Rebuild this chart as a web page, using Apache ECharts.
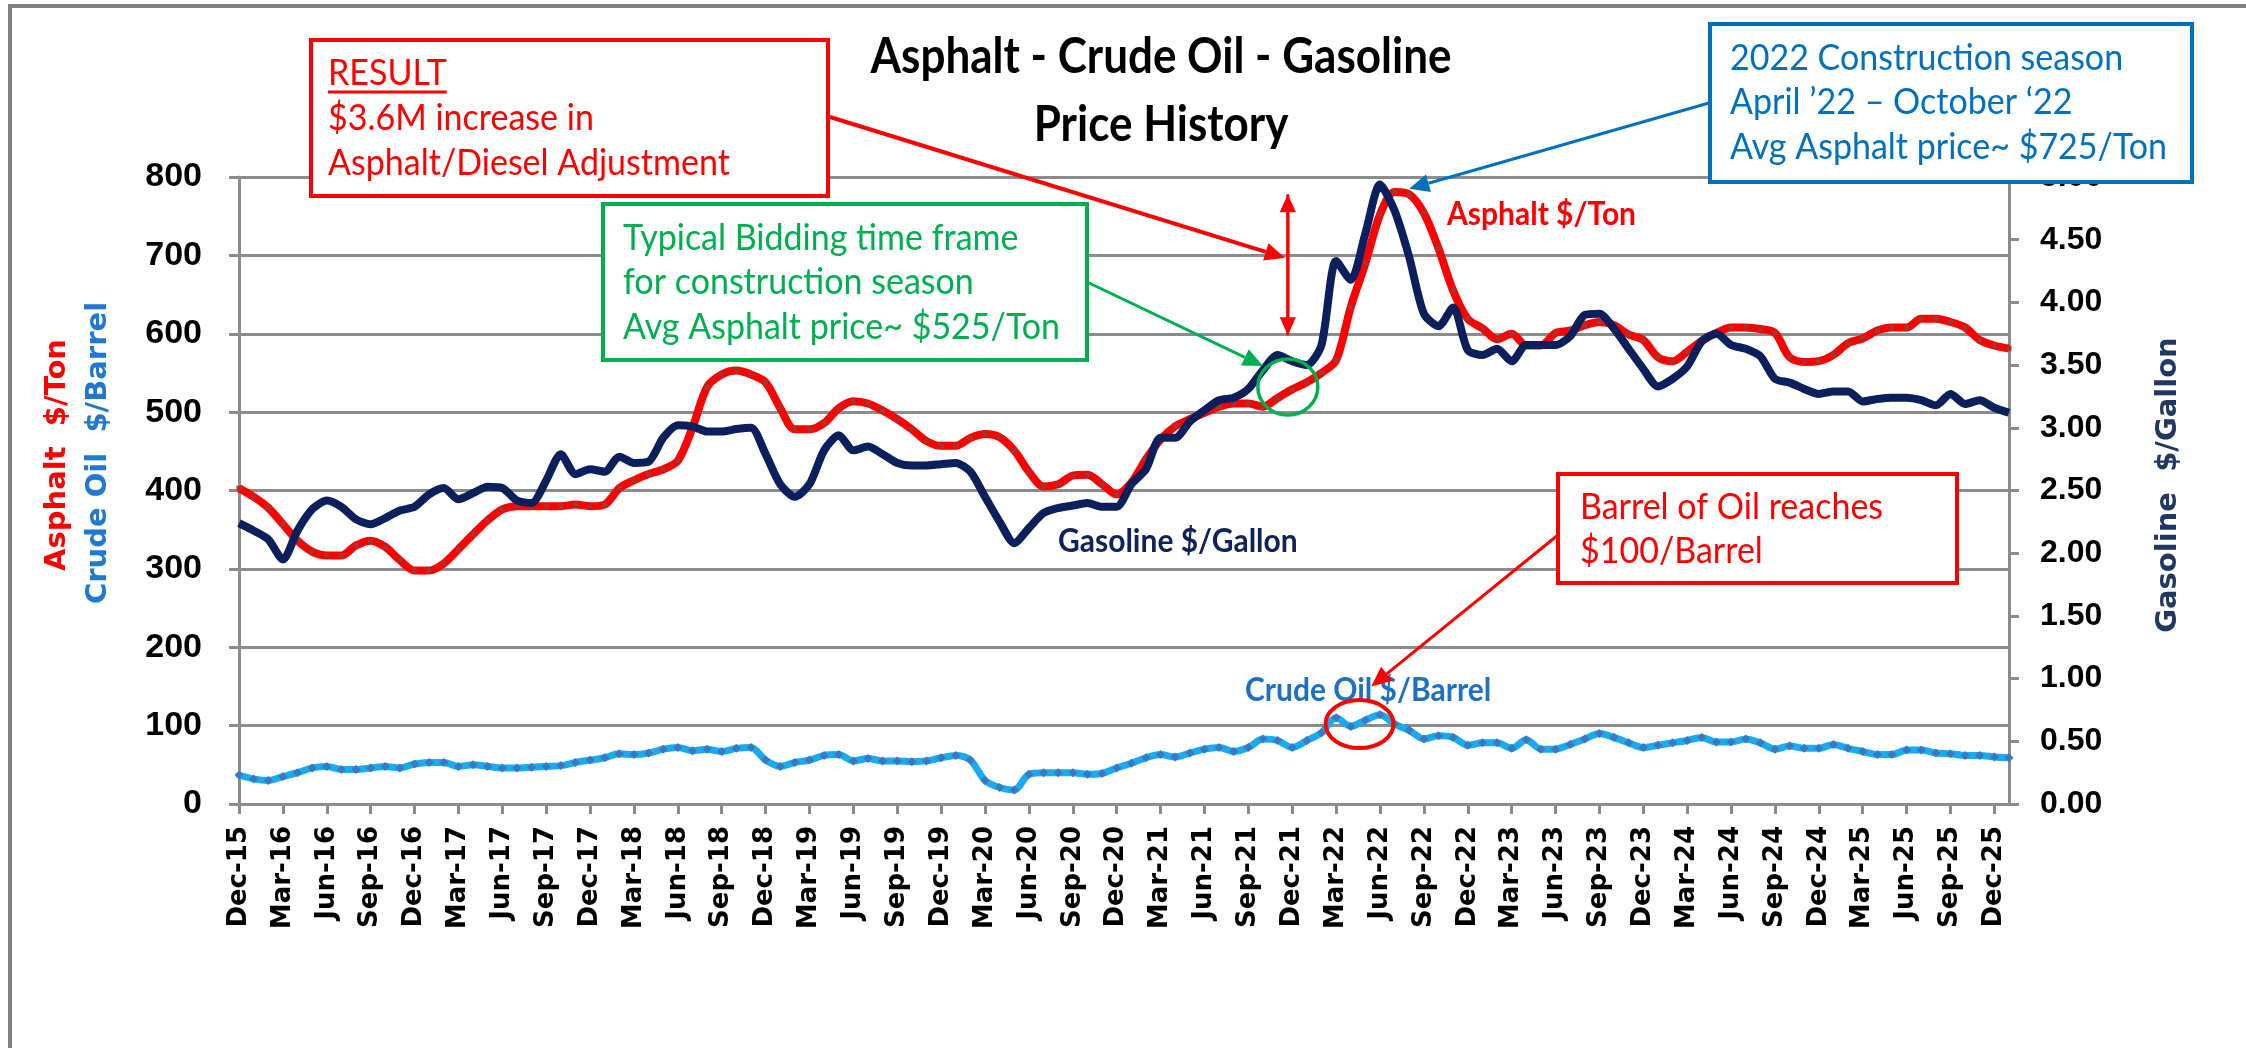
<!DOCTYPE html>
<html>
<head>
<meta charset="utf-8">
<title>Asphalt - Crude Oil - Gasoline Price History</title>
<script src="https://cdn.jsdelivr.net/npm/echarts/dist/echarts.min.js"></script>
<style>
  html, body { margin: 0; padding: 0; background: #fff; }
  #chart { width: 2246px; height: 1048px; }
</style>
</head>
<body>
<div id="chart"></div>
<script>
// monthly points, Dec-15 .. Jan-26
const monthNames = ['Jan', 'Feb', 'Mar', 'Apr', 'May', 'Jun', 'Jul', 'Aug', 'Sep', 'Oct', 'Nov', 'Dec']
const months = []
for (let i = 0; i < 122; i++) {
  const m = (11 + i) % 12
  const y = 15 + Math.floor((11 + i) / 12)
  months.push(monthNames[m] + '-' + y)
}

// Asphalt $/Ton (left axis)
const asphalt = [
  403, 392, 378, 357, 336, 322, 317, 317, 330, 336, 328, 311,
  298, 298, 307, 325, 344, 362, 376, 380, 380, 380, 380, 382,
  380, 382, 403, 413, 421, 427, 438, 480, 532, 548, 553, 548,
  538, 505, 478, 478, 486, 505, 514, 511, 502, 491, 478, 463,
  457, 457, 467, 472, 468, 451, 424, 405, 408, 419, 420, 408,
  395, 410, 440, 465, 482, 491, 499, 507, 511, 511, 507, 518,
  529, 538, 550, 566, 634, 690, 752, 781, 778, 754, 709, 655,
  619, 607, 593, 600, 585, 585, 601, 604, 611, 615, 611, 599,
  592, 570, 565, 577, 591, 601, 608, 608, 606, 601, 570, 564,
  565, 573, 588, 594, 604, 608, 608, 619, 619, 615, 608, 592,
  585, 581
]

// Crude Oil $/Barrel (left axis)
const crude = [
  37, 32, 30, 35, 40, 46, 48, 44, 44, 46, 48, 46,
  51, 53, 53, 48, 50, 48, 46, 46, 47, 48, 49, 53,
  56, 59, 64, 63, 65, 70, 72, 68, 70, 67, 71, 72,
  56, 48, 53, 56, 62, 63, 55, 58, 55, 55, 54, 55,
  59, 62, 56, 30, 21, 18, 38, 40, 40, 40, 38, 39,
  46, 52, 59, 63, 60, 65, 70, 72, 67, 72, 83, 81,
  72, 81, 91, 110, 99, 107, 114, 102, 94, 83, 87, 85,
  75, 78, 78, 71, 82, 70, 70, 76, 83, 90, 85, 78,
  72, 75, 78, 81, 85, 79, 79, 83, 78, 70, 74, 71,
  71, 76, 71, 67, 63, 63, 69, 69, 65, 64, 62, 62,
  60, 59
]

// Gasoline $/Gallon (right axis)
const gasoline = [
  2.24, 2.18, 2.11, 1.95, 2.18, 2.35, 2.42, 2.37, 2.27, 2.23, 2.28, 2.34,
  2.37, 2.47, 2.52, 2.43, 2.48, 2.53, 2.52, 2.42, 2.40, 2.58, 2.79, 2.63,
  2.67, 2.65, 2.77, 2.72, 2.73, 2.92, 3.02, 3.01, 2.97, 2.97, 2.99, 3.00,
  2.79, 2.55, 2.45, 2.55, 2.82, 2.94, 2.82, 2.85, 2.79, 2.72, 2.70, 2.70,
  2.71, 2.72, 2.65, 2.45, 2.25, 2.08, 2.20, 2.32, 2.36, 2.38, 2.40, 2.37,
  2.37, 2.55, 2.67, 2.92, 2.92, 3.05, 3.14, 3.22, 3.24, 3.31, 3.46, 3.58,
  3.53, 3.50, 3.66, 4.33, 4.18, 4.55, 4.94, 4.73, 4.36, 3.91, 3.81, 3.96,
  3.62, 3.58, 3.63, 3.53, 3.66, 3.66, 3.66, 3.73, 3.90, 3.91, 3.79, 3.63,
  3.47, 3.33, 3.39, 3.49, 3.69, 3.75, 3.66, 3.63, 3.57, 3.39, 3.36, 3.31,
  3.27, 3.29, 3.29, 3.21, 3.23, 3.24, 3.24, 3.22, 3.18, 3.27, 3.19, 3.22,
  3.16, 3.12
]

const titleLines = ['Asphalt - Crude Oil - Gasoline', 'Price History']
const resultNote = ['RESULT', '$3.6M increase in', 'Asphalt/Diesel Adjustment']
const biddingNote = ['Typical Bidding time frame', 'for construction season', 'Avg Asphalt price~ $525/Ton']
const seasonNote = ['2022 Construction season', 'April \u201922 \u2013 October \u201822', 'Avg Asphalt price~ $725/Ton']
const barrelNote = ['Barrel of Oil reaches', '$100/Barrel']

const gridColor = '#8c8c8c'
const noteFont = '34px Lato'

const chart = echarts.init(document.getElementById('chart'))

chart.setOption({
  animation: false,
  backgroundColor: '#fff',
  grid: { left: 239, right: 237, top: 177, bottom: 244, containLabel: false },
  xAxis: {
    type: 'category',
    data: months,
    boundaryGap: false,
    axisLine: { lineStyle: { color: gridColor, width: 3 } },
    axisTick: { interval: 2, length: 10, lineStyle: { color: gridColor, width: 3 } },
    axisLabel: {
      interval: 2,
      rotate: 90,
      margin: 22,
      color: '#000',
      fontFamily: 'DejaVu Sans',
      fontWeight: 'bold',
      fontSize: 26
    },
    splitLine: { show: false }
  },
  yAxis: [
    {
      type: 'value',
      min: 0,
      max: 800,
      interval: 100,
      axisLine: { show: true, lineStyle: { color: gridColor, width: 3 } },
      axisTick: { show: true, length: 10, lineStyle: { color: gridColor, width: 3 } },
      axisLabel: {
        margin: 37,
        color: '#000',
        fontFamily: 'Liberation Sans',
        fontWeight: 'bold',
        fontSize: 34
      },
      splitLine: { lineStyle: { color: gridColor, width: 3 } }
    },
    {
      type: 'value',
      position: 'right',
      min: 0,
      max: 5,
      interval: 0.5,
      axisLine: { show: true, lineStyle: { color: gridColor, width: 3 } },
      axisTick: { show: true, length: 10, lineStyle: { color: gridColor, width: 3 } },
      axisLabel: {
        margin: 31,
        color: '#000',
        fontFamily: 'Liberation Sans',
        fontWeight: 'bold',
        fontSize: 32,
        formatter: v => v.toFixed(2)
      },
      splitLine: { show: false }
    }
  ],
  series: [
    {
      name: 'Asphalt $/Ton',
      type: 'line',
      yAxisIndex: 0,
      data: asphalt,
      smooth: 0.3,
      symbol: 'rect',
      symbolSize: 5,
      showAllSymbol: true,
      lineStyle: { color: '#ff0000', width: 8 },
      itemStyle: { color: '#a8322d' },
      z: 2
    },
    {
      name: 'Crude Oil $/Barrel',
      type: 'line',
      yAxisIndex: 0,
      data: crude,
      smooth: 0.3,
      symbol: 'diamond',
      symbolSize: 9,
      showAllSymbol: true,
      lineStyle: { color: '#19aaf0', width: 7 },
      itemStyle: { color: '#3a78c0' },
      z: 2
    },
    {
      name: 'Gasoline $/Gallon',
      type: 'line',
      yAxisIndex: 1,
      data: gasoline,
      smooth: 0.25,
      showSymbol: false,
      lineStyle: { color: '#0a1f5c', width: 8 },
      z: 3
    }
  ]
})

// pixel position of a (fractional) month index and a left-axis value
function px(i, v) {
  const k = Math.floor(i)
  const a = chart.convertToPixel({ xAxisIndex: 0, yAxisIndex: 0 }, [k, v])
  const b = chart.convertToPixel({ xAxisIndex: 0, yAxisIndex: 0 }, [k + 1, v])
  return [a[0] + (b[0] - a[0]) * (i - k), a[1]]
}

function arrow(from, to, color, width, head) {
  const dx = to[0] - from[0]
  const dy = to[1] - from[1]
  const len = Math.sqrt(dx * dx + dy * dy)
  const ux = dx / len
  const uy = dy / len
  const bx = to[0] - ux * head
  const by = to[1] - uy * head
  const hw = head * 0.45
  return [
    { type: 'line', z: 100, shape: { x1: from[0], y1: from[1], x2: bx, y2: by }, style: { stroke: color, lineWidth: width } },
    {
      type: 'polygon', z: 100,
      shape: { points: [to, [bx - uy * hw, by + ux * hw], [bx + uy * hw, by - ux * hw]] },
      style: { fill: color }
    }
  ]
}

function noteBox(x, y, w, h, color, lines, tx, ty, gap) {
  const els = [{ type: 'rect', z: 100, shape: { x: x, y: y, width: w, height: h }, style: { fill: '#fff', stroke: color, lineWidth: 4 } }]
  lines.forEach((t, k) => {
    els.push({ type: 'text', z: 101, x: tx, y: ty + k * gap, scaleY: 1.08, style: { text: t, font: noteFont, fill: color, textAlign: 'left', textVerticalAlign: 'middle' } })
  })
  return els
}

const ctx = document.createElement('canvas').getContext('2d')
ctx.font = noteFont
const resultWidth = ctx.measureText(resultNote[0]).width

const redTip = px(71.5, 697)
const dblTop = px(71.7, 778)
const dblBot = px(71.7, 598)
const greenTip = px(70, 559)
const greenRing = px(71.7, 532)
const blueTip = px(80, 785)
const barrelTip = px(77.4, 150)
const barrelRing = px(76.6, 102)

let graphic = [
  { type: 'rect', z: 0, silent: true, shape: { x: 10, y: 6, width: 2400, height: 1200 }, style: { fill: 'none', stroke: '#7f7f7f', lineWidth: 4 } },
  { type: 'text', z: 100, x: 1161, y: 57, scaleY: 1.12, style: { text: titleLines[0], font: 'bold 44px Lato', fill: '#000', textAlign: 'center', textVerticalAlign: 'middle' } },
  { type: 'text', z: 100, x: 1161, y: 125, scaleY: 1.12, style: { text: titleLines[1], font: 'bold 44px Lato', fill: '#000', textAlign: 'center', textVerticalAlign: 'middle' } },
  { type: 'text', z: 100, x: 57, y: 455, rotation: Math.PI / 2, style: { text: 'Asphalt  $/Ton', font: 'bold 29px "DejaVu Sans"', fill: '#ff0000', textAlign: 'center', textVerticalAlign: 'middle' } },
  { type: 'text', z: 100, x: 98, y: 453, rotation: Math.PI / 2, style: { text: 'Crude Oil  $/Barrel', font: 'bold 29px "DejaVu Sans"', fill: '#1f78d1', textAlign: 'center', textVerticalAlign: 'middle' } },
  { type: 'text', z: 100, x: 2168, y: 485, rotation: Math.PI / 2, style: { text: 'Gasoline  $/Gallon', font: 'bold 29px "DejaVu Sans"', fill: '#203864', textAlign: 'center', textVerticalAlign: 'middle' } },
  { type: 'text', z: 100, x: 1447, y: 214, scaleY: 1.1, style: { text: 'Asphalt $/Ton', font: 'bold 30px Lato', fill: '#ff0000', textAlign: 'left', textVerticalAlign: 'middle' } },
  { type: 'text', z: 100, x: 1058, y: 541, scaleY: 1.1, style: { text: 'Gasoline $/Gallon', font: 'bold 30px Lato', fill: '#0d2359', textAlign: 'left', textVerticalAlign: 'middle' } },
  { type: 'text', z: 100, x: 1245, y: 690, scaleY: 1.1, style: { text: 'Crude Oil $/Barrel', font: 'bold 30px Lato', fill: '#1d71c4', textAlign: 'left', textVerticalAlign: 'middle' } }
]

graphic = graphic.concat(
  noteBox(311, 40, 517, 156, '#ff0000', resultNote, 328, 73, 45),
  [{ type: 'line', z: 101, shape: { x1: 328, y1: 92, x2: 328 + resultWidth, y2: 92 }, style: { stroke: '#ff0000', lineWidth: 3 } }],
  noteBox(603, 204, 484, 156, '#00b050', biddingNote, 623, 238, 44.5),
  noteBox(1710, 24, 482, 158, '#0070c0', seasonNote, 1730, 58, 44.5),
  noteBox(1558, 474, 399, 109, '#ff0000', barrelNote, 1580, 507, 44),
  arrow([830, 117], redTip, '#ff0000', 4, 20),
  arrow(dblBot, dblTop, '#ff0000', 3, 18),
  arrow(dblTop, dblBot, '#ff0000', 3, 18),
  arrow([1087, 282], greenTip, '#00b050', 3, 20),
  arrow([1709, 103], blueTip, '#0070c0', 3, 20),
  arrow([1558, 535], barrelTip, '#ff0000', 3, 20),
  [
    { type: 'ellipse', z: 100, shape: { cx: greenRing[0], cy: greenRing[1], rx: 30, ry: 28 }, style: { fill: 'none', stroke: '#00b050', lineWidth: 3.5 } },
    { type: 'ellipse', z: 100, shape: { cx: barrelRing[0], cy: barrelRing[1], rx: 34, ry: 24 }, style: { fill: 'none', stroke: '#ff0000', lineWidth: 4 } }
  ]
)

chart.setOption({ graphic: graphic })
</script>
</body>
</html>
